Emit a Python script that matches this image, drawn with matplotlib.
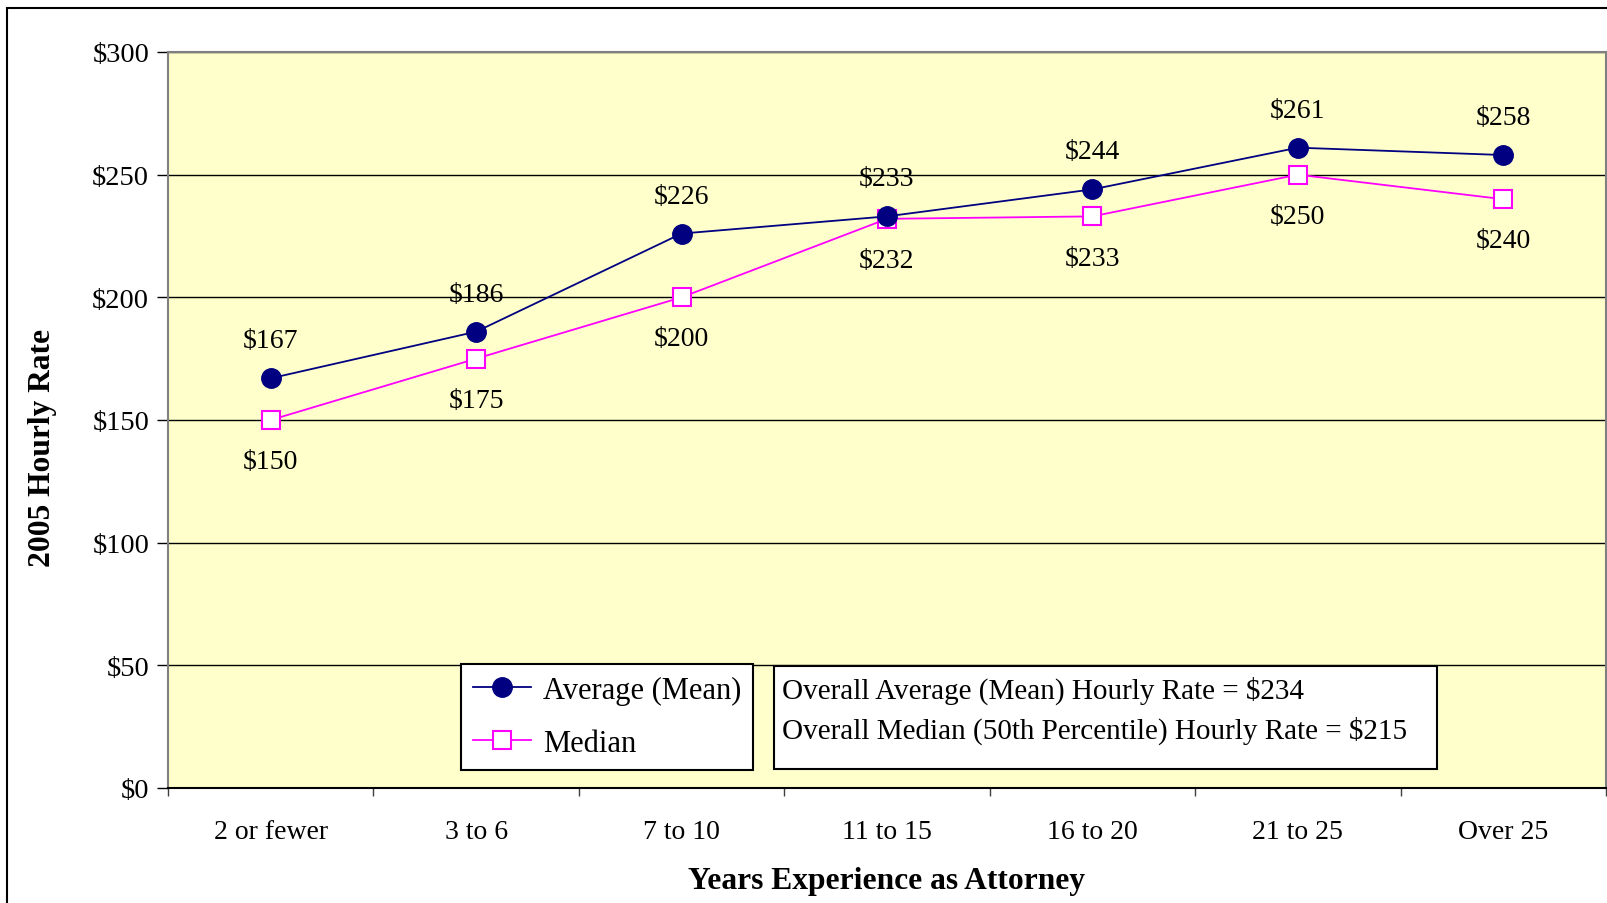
import matplotlib
matplotlib.use("Agg")
import matplotlib.pyplot as plt
from matplotlib.patches import Rectangle

plt.rcParams["font.family"] = ["Liberation Serif", "DejaVu Serif"]

categories = ["2 or fewer", "3 to 6", "7 to 10", "11 to 15", "16 to 20", "21 to 25", "Over 25"]
mean_rate = [167, 186, 226, 233, 244, 261, 258]
median_rate = [150, 175, 200, 232, 233, 250, 240]
y_ticks = [0, 50, 100, 150, 200, 250, 300]
overall_lines = [
    "Overall Average (Mean) Hourly Rate = $234",
    "Overall Median (50th Percentile) Hourly Rate = $215",
]

W, H = 1608, 904
fig = plt.figure(figsize=(W / 100, H / 100), dpi=100)
fig.patch.set_facecolor("white")

# outer border of the chart (runs off the right/bottom edge)
fig.patches.append(Rectangle((7 / W, -0.05), 1.2, 1 - 9 / H + 0.05, transform=fig.transFigure,
                             fill=False, edgecolor="black", lw=1.5, clip_on=False))

ax = fig.add_axes([168 / W, 1 - 789 / H, (1606 - 168) / W, (789 - 53) / H])
ax.set_facecolor("#FFFFCC")

x = list(range(len(categories)))
ax.plot(x, mean_rate, color="#000080", lw=1.3, marker="o", ms=14,
        markerfacecolor="#000080", markeredgecolor="#000080", label="Average (Mean)", zorder=4)
ax.plot(x, median_rate, color="#FF00FF", lw=1.3, marker="s", ms=13,
        markerfacecolor="white", markeredgecolor="#FF00FF", markeredgewidth=1.5,
        label="Median", zorder=3)

# value labels: mean above, median below
for xi, v in zip(x, mean_rate):
    ax.annotate(f"${v}", (xi, v), xytext=(0, 27), textcoords="offset points",
                ha="center", va="center", fontsize=20)
for xi, v in zip(x, median_rate):
    ax.annotate(f"${v}", (xi, v), xytext=(0, -30), textcoords="offset points",
                ha="center", va="center", fontsize=20)

ax.set_xlim(-0.5, len(categories) - 0.5)
ax.set_ylim(0, 300)
ax.set_yticks(y_ticks)
ax.set_yticklabels([f"${t}" for t in y_ticks], fontsize=20.5)
ax.yaxis.grid(True, color="black", lw=1)
ax.set_axisbelow(True)

ax.set_xticks(x)
ax.set_xticklabels(categories, fontsize=20)
ax.set_xticks([i - 0.5 for i in range(len(categories) + 1)], minor=True)
ax.tick_params(axis="x", which="major", length=0, pad=22)
ax.tick_params(axis="x", which="minor", length=6, width=1, color="#404040")
ax.tick_params(axis="y", length=8, width=1, pad=5.5)

for side in ["top", "left", "right"]:
    ax.spines[side].set_color("#808080")
    ax.spines[side].set_linewidth(1.5)
ax.spines["bottom"].set_color("black")
ax.spines["bottom"].set_linewidth(1.5)

ax.set_ylabel("2005 Hourly Rate", fontsize=22.7, fontweight="bold", va="center")
ax.yaxis.set_label_coords(-(168 - 43) / (1606 - 168), 1 - (448 - 53) / (789 - 53))
ax.set_xlabel("Years Experience as Attorney", fontsize=22.7, fontweight="bold", va="center")
ax.xaxis.set_label_coords(0.5, -(882 - 789) / (789 - 53))

leg = fig.legend(loc="upper left", bbox_to_anchor=(461 / W, 1 - 665 / H), borderaxespad=0,
                 fontsize=22, frameon=True, fancybox=False, edgecolor="black",
                 handlelength=1.9, handletextpad=0.4, labelspacing=0.8, borderpad=0.38)
leg.get_frame().set_linewidth(1.5)
leg.get_frame().set_facecolor("white")
leg.get_frame().set_alpha(1)

# box with overall rates
fig.patches.append(Rectangle((774 / W, 1 - 770 / H), (1437 - 774) / W, (770 - 667) / H,
                             transform=fig.transFigure, facecolor="white",
                             edgecolor="black", lw=1.5, zorder=5))
fig.text(782 / W, 1 - 691 / H, overall_lines[0], fontsize=21, ha="left", va="center", zorder=6)
fig.text(782 / W, 1 - 731 / H, overall_lines[1], fontsize=21, ha="left", va="center", zorder=6)

fig.savefig("out.png", dpi=100)
